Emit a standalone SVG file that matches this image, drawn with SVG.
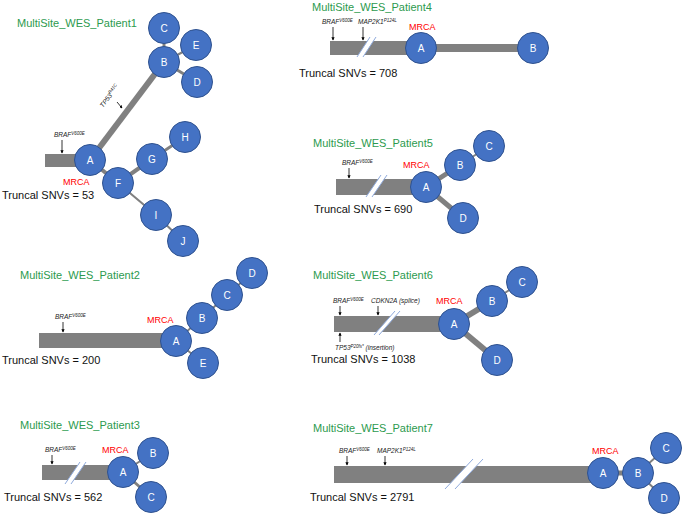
<svg xmlns="http://www.w3.org/2000/svg" width="683" height="514" viewBox="0 0 683 514">
<style>
.title{font-family:"Liberation Sans",Arial,sans-serif;font-size:11px;fill:#2c9a4e}
.snv{font-family:"Liberation Sans",Arial,sans-serif;font-size:11px;fill:#111}
.mrca{font-family:"Liberation Sans",Arial,sans-serif;font-size:9px;fill:#ff0000}
.mut{font-family:"Liberation Sans",Arial,sans-serif;font-size:6.5px;font-style:italic;fill:#222}
.sup{font-size:4.5px}
.trunk{fill:#808080}
.edge{stroke:#808080;fill:none}
.brk{fill:#ffffff;stroke:none}
.brkl{stroke:#8faadc;stroke-width:1}
.arr{stroke:#000;stroke-width:0.8;marker-end:url(#ah)}
.node circle{fill:#4472c4;stroke:#2f528f;stroke-width:1}
.node text{font-family:"Liberation Sans",Arial,sans-serif;font-size:10px;fill:#fff;text-anchor:middle}
</style>
<defs>
<marker id="ah" viewBox="0 0 6 6" refX="5" refY="3" markerWidth="4" markerHeight="4" orient="auto">
<path d="M0,0 L6,3 L0,6 Z" fill="#000"/>
</marker>
</defs>
<rect width="683" height="514" fill="#fff"/>

<!-- Patient 1 -->
<g id="patient1">
<text class="title" x="17" y="27">MultiSite_WES_Patient1</text>
<text class="snv" x="2" y="199">Truncal SNVs = 53</text>
<text class="mrca" x="63" y="185">MRCA</text>
<rect class="trunk" x="45" y="154" width="45" height="13"/>
<text class="mut" x="54" y="137">BRAF<tspan class="sup" dy="-2.5">V600E</tspan></text>
<line class="arr" x1="62" y1="140" x2="62" y2="153"/>
<text class="mut" x="103" y="108" transform="rotate(-53 103 108)">TP53<tspan class="sup" dy="-2.5">R41C</tspan></text>
<line class="arr" x1="117" y1="102" x2="122" y2="108"/>
</g>
<g id="p1-edges">
<line class="edge" x1="90" y1="160" x2="164" y2="62" stroke-width="6"/>
<line class="edge" x1="164" y1="62" x2="164" y2="28" stroke-width="3"/>
<line class="edge" x1="164" y1="62" x2="196" y2="45" stroke-width="2"/>
<line class="edge" x1="164" y1="62" x2="197" y2="82" stroke-width="3"/>
<line class="edge" x1="90" y1="160" x2="118" y2="183" stroke-width="4"/>
<line class="edge" x1="118" y1="183" x2="152" y2="159" stroke-width="4"/>
<line class="edge" x1="152" y1="159" x2="185" y2="137" stroke-width="3"/>
<line class="edge" x1="118" y1="183" x2="156" y2="215" stroke-width="2"/>
<line class="edge" x1="156" y1="215" x2="183" y2="241" stroke-width="2"/>
</g>
<g id="p1-A" class="node"><circle cx="90" cy="160" r="15.5"/><text x="90" y="164">A</text></g>
<g id="p1-B" class="node"><circle cx="164" cy="62" r="15.5"/><text x="164" y="66">B</text></g>
<g id="p1-C" class="node"><circle cx="164" cy="28" r="15.5"/><text x="164" y="32">C</text></g>
<g id="p1-E" class="node"><circle cx="196" cy="45" r="15.5"/><text x="196" y="49">E</text></g>
<g id="p1-D" class="node"><circle cx="197" cy="82" r="15.5"/><text x="197" y="86">D</text></g>
<g id="p1-F" class="node"><circle cx="118" cy="183" r="15.5"/><text x="118" y="187">F</text></g>
<g id="p1-G" class="node"><circle cx="152" cy="159" r="15.5"/><text x="152" y="163">G</text></g>
<g id="p1-H" class="node"><circle cx="185" cy="137" r="15.5"/><text x="185" y="141">H</text></g>
<g id="p1-I" class="node"><circle cx="156" cy="215" r="15.5"/><text x="156" y="219">I</text></g>
<g id="p1-J" class="node"><circle cx="183" cy="241" r="15.5"/><text x="183" y="245">J</text></g>

<!-- Patient 4 -->
<g id="patient4">
<text class="title" x="312" y="11">MultiSite_WES_Patient4</text>
<text class="snv" x="299" y="77">Truncal SNVs = 708</text>
<text class="mrca" x="409" y="30">MRCA</text>
<rect class="trunk" x="330" y="41" width="91" height="14"/>
<polygon class="brk" points="357,57 363,57 376,37 370,37"/>
<line class="brkl" x1="357" y1="57" x2="370" y2="37"/>
<line class="brkl" x1="363" y1="57" x2="376" y2="37"/>
<text class="mut" x="322" y="24">BRAF<tspan class="sup" dy="-2.5">V600E</tspan></text>
<line class="arr" x1="333" y1="27" x2="333" y2="40"/>
<text class="mut" x="358" y="24">MAP2K1<tspan class="sup" dy="-2.5">P124L</tspan></text>
<line class="arr" x1="363" y1="27" x2="363" y2="40"/>
</g>
<g id="p4-edges">
<line class="edge" x1="421" y1="48" x2="533" y2="48" stroke-width="8"/>
</g>
<g id="p4-A" class="node"><circle cx="421" cy="48" r="15.5"/><text x="421" y="52">A</text></g>
<g id="p4-B" class="node"><circle cx="533" cy="48" r="15.5"/><text x="533" y="52">B</text></g>

<!-- Patient 5 -->
<g id="patient5">
<text class="title" x="313" y="147">MultiSite_WES_Patient5</text>
<text class="snv" x="314" y="213">Truncal SNVs = 690</text>
<text class="mrca" x="403" y="168">MRCA</text>
<rect class="trunk" x="336" y="179" width="90" height="16"/>
<polygon class="brk" points="366,197 372,197 387,175 381,175"/>
<line class="brkl" x1="366" y1="197" x2="381" y2="175"/>
<line class="brkl" x1="372" y1="197" x2="387" y2="175"/>
<text class="mut" x="342" y="165">BRAF<tspan class="sup" dy="-2.5">V600E</tspan></text>
<line class="arr" x1="349" y1="168" x2="349" y2="178"/>
</g>
<g id="p5-edges">
<line class="edge" x1="426" y1="187" x2="460" y2="165" stroke-width="5"/>
<line class="edge" x1="460" y1="165" x2="489" y2="146" stroke-width="2"/>
<line class="edge" x1="426" y1="187" x2="463" y2="218" stroke-width="5"/>
</g>
<g id="p5-A" class="node"><circle cx="426" cy="187" r="15.5"/><text x="426" y="191">A</text></g>
<g id="p5-B" class="node"><circle cx="460" cy="165" r="15.5"/><text x="460" y="169">B</text></g>
<g id="p5-C" class="node"><circle cx="489" cy="146" r="15.5"/><text x="489" y="150">C</text></g>
<g id="p5-D" class="node"><circle cx="463" cy="218" r="15.5"/><text x="463" y="222">D</text></g>

<!-- Patient 2 -->
<g id="patient2">
<text class="title" x="20" y="279">MultiSite_WES_Patient2</text>
<text class="snv" x="2" y="364">Truncal SNVs = 200</text>
<text class="mrca" x="147" y="323">MRCA</text>
<rect class="trunk" x="39" y="333" width="137" height="15"/>
<text class="mut" x="55" y="319">BRAF<tspan class="sup" dy="-2.5">V600E</tspan></text>
<line class="arr" x1="63" y1="322" x2="63" y2="332"/>
</g>
<g id="p2-edges">
<line class="edge" x1="176" y1="341" x2="202" y2="318" stroke-width="2"/>
<line class="edge" x1="202" y1="318" x2="227" y2="295" stroke-width="2"/>
<line class="edge" x1="227" y1="295" x2="252" y2="273" stroke-width="2"/>
<line class="edge" x1="176" y1="341" x2="203" y2="363" stroke-width="2"/>
</g>
<g id="p2-A" class="node"><circle cx="176" cy="341" r="15.5"/><text x="176" y="345">A</text></g>
<g id="p2-B" class="node"><circle cx="202" cy="318" r="15.5"/><text x="202" y="322">B</text></g>
<g id="p2-C" class="node"><circle cx="227" cy="295" r="15.5"/><text x="227" y="299">C</text></g>
<g id="p2-D" class="node"><circle cx="252" cy="273" r="15.5"/><text x="252" y="277">D</text></g>
<g id="p2-E" class="node"><circle cx="203" cy="363" r="15.5"/><text x="203" y="367">E</text></g>

<!-- Patient 6 -->
<g id="patient6">
<text class="title" x="313" y="279">MultiSite_WES_Patient6</text>
<text class="snv" x="311" y="363">Truncal SNVs = 1038</text>
<text class="mrca" x="436" y="304">MRCA</text>
<rect class="trunk" x="334" y="316" width="120" height="16"/>
<polygon class="brk" points="374,335 379,335 400,311 395,311"/>
<line class="brkl" x1="374" y1="335" x2="395" y2="311"/>
<line class="brkl" x1="379" y1="335" x2="400" y2="311"/>
<text class="mut" x="333" y="303">BRAF<tspan class="sup" dy="-2.5">V600E</tspan></text>
<line class="arr" x1="340" y1="306" x2="340" y2="315"/>
<text class="mut" x="371" y="303">CDKN2A (splice)</text>
<line class="arr" x1="378" y1="306" x2="378" y2="315"/>
<text class="mut" x="335" y="350">TP53<tspan class="sup" dy="-2.5">P20fs*</tspan><tspan dy="2.5"> (insertion)</tspan></text>
<line class="arr" x1="340" y1="342" x2="340" y2="333"/>
</g>
<g id="p6-edges">
<line class="edge" x1="454" y1="324" x2="492" y2="301" stroke-width="6"/>
<line class="edge" x1="492" y1="301" x2="522" y2="282" stroke-width="2"/>
<line class="edge" x1="454" y1="324" x2="497" y2="360" stroke-width="6"/>
</g>
<g id="p6-A" class="node"><circle cx="454" cy="324" r="15.5"/><text x="454" y="328">A</text></g>
<g id="p6-B" class="node"><circle cx="492" cy="301" r="15.5"/><text x="492" y="305">B</text></g>
<g id="p6-C" class="node"><circle cx="522" cy="282" r="15.5"/><text x="522" y="286">C</text></g>
<g id="p6-D" class="node"><circle cx="497" cy="360" r="15.5"/><text x="497" y="364">D</text></g>

<!-- Patient 3 -->
<g id="patient3">
<text class="title" x="20" y="429">MultiSite_WES_Patient3</text>
<text class="snv" x="4" y="501">Truncal SNVs = 562</text>
<text class="mrca" x="102" y="453">MRCA</text>
<rect class="trunk" x="42" y="465" width="81" height="15"/>
<polygon class="brk" points="65,484 71,484 86,462 80,462"/>
<line class="brkl" x1="65" y1="484" x2="80" y2="462"/>
<line class="brkl" x1="71" y1="484" x2="86" y2="462"/>
<text class="mut" x="45" y="452">BRAF<tspan class="sup" dy="-2.5">V600E</tspan></text>
<line class="arr" x1="52" y1="455" x2="52" y2="464"/>
</g>
<g id="p3-edges">
<line class="edge" x1="123" y1="472" x2="153" y2="453" stroke-width="2"/>
<line class="edge" x1="123" y1="472" x2="151" y2="497" stroke-width="3"/>
</g>
<g id="p3-A" class="node"><circle cx="123" cy="472" r="15.5"/><text x="123" y="476">A</text></g>
<g id="p3-B" class="node"><circle cx="153" cy="453" r="15.5"/><text x="153" y="457">B</text></g>
<g id="p3-C" class="node"><circle cx="151" cy="497" r="15.5"/><text x="151" y="501">C</text></g>

<!-- Patient 7 -->
<g id="patient7">
<text class="title" x="313" y="432">MultiSite_WES_Patient7</text>
<text class="snv" x="310" y="501">Truncal SNVs = 2791</text>
<text class="mrca" x="592" y="454">MRCA</text>
<rect class="trunk" x="334" y="466" width="269" height="17"/>
<polygon class="brk" points="445,489 455,489 483,459 473,459"/>
<line class="brkl" x1="445" y1="489" x2="473" y2="459"/>
<line class="brkl" x1="455" y1="489" x2="483" y2="459"/>
<text class="mut" x="339" y="453">BRAF<tspan class="sup" dy="-2.5">V600E</tspan></text>
<line class="arr" x1="347" y1="456" x2="347" y2="465"/>
<text class="mut" x="377" y="453">MAP2K1<tspan class="sup" dy="-2.5">P124L</tspan></text>
<line class="arr" x1="385" y1="456" x2="385" y2="465"/>
</g>
<g id="p7-edges">
<line class="edge" x1="603" y1="473" x2="638" y2="473" stroke-width="5"/>
<line class="edge" x1="638" y1="473" x2="666" y2="448" stroke-width="2"/>
<line class="edge" x1="638" y1="473" x2="664" y2="498" stroke-width="2"/>
</g>
<g id="p7-A" class="node"><circle cx="603" cy="473" r="15.5"/><text x="603" y="477">A</text></g>
<g id="p7-B" class="node"><circle cx="638" cy="473" r="15.5"/><text x="638" y="477">B</text></g>
<g id="p7-C" class="node"><circle cx="666" cy="448" r="15.5"/><text x="666" y="452">C</text></g>
<g id="p7-D" class="node"><circle cx="664" cy="498" r="15.5"/><text x="664" y="502">D</text></g>
</svg>
